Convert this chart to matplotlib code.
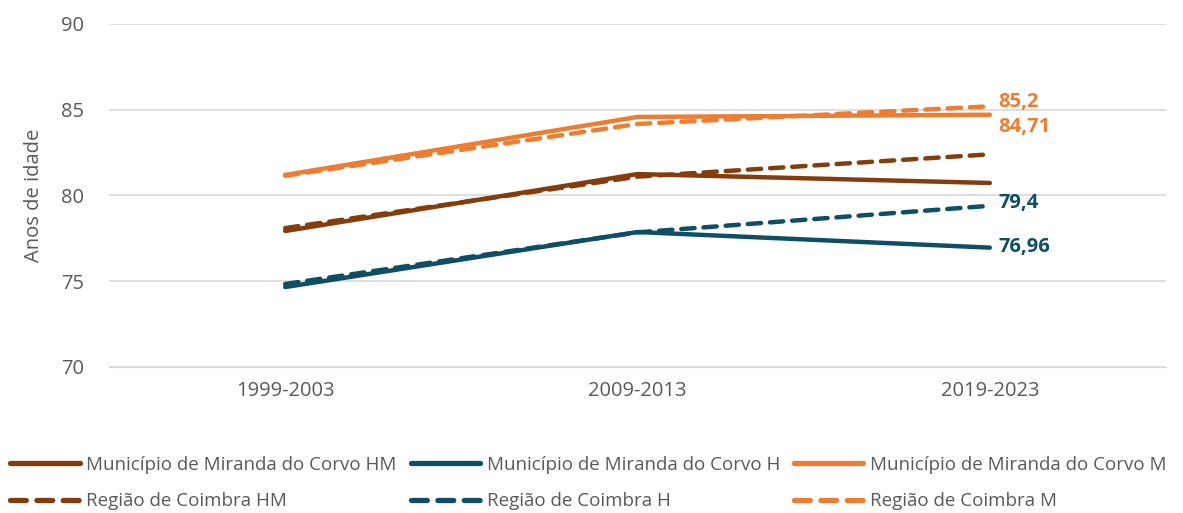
import matplotlib
matplotlib.use("Agg")
import matplotlib.pyplot as plt

periods = ["1999-2003", "2009-2013", "2019-2023"]
mun_hm = [77.93, 81.25, 80.73]
mun_h = [74.66, 77.87, 76.96]
mun_m = [81.2, 84.58, 84.71]
reg_hm = [78.1, 81.1, 82.4]
reg_h = [74.84, 77.85, 79.4]
reg_m = [81.15, 84.17, 85.2]
yticks = [70, 75, 80, 85, 90]

c_hm = "#843C0C"
c_h = "#0E4F66"
c_m = "#ED7D31"
txt = "#595959"

plt.rcParams['font.family'] = ['Open Sans', 'DejaVu Sans']

fig = plt.figure(figsize=(11.83, 5.13), dpi=100)
L, R, T, B = 109, 1166, 24, 367
ax = fig.add_axes([L/1183, 1-B/513, (R-L)/1183, (B-T)/513])

x = list(range(len(periods)))
lw = 3.2
series = [
    (mun_hm, c_hm, "-", "Município de Miranda do Corvo HM"),
    (reg_hm, c_hm, "--", "Região de Coimbra HM"),
    (mun_h, c_h, "-", "Município de Miranda do Corvo H"),
    (reg_h, c_h, "--", "Região de Coimbra H"),
    (mun_m, c_m, "-", "Município de Miranda do Corvo M"),
    (reg_m, c_m, "--", "Região de Coimbra M"),
]
handles = []
for vals, col, ls, lab in series:
    kw = dict(dashes=(3, 2)) if ls == "--" else {}
    line, = ax.plot(x, vals, color=col, lw=lw, ls=ls, solid_capstyle="round",
                    dash_capstyle="round", label=lab, zorder=3, **kw)
    handles.append(line)

lab_specs = [
    (reg_m, c_m, 3.0, "85,2"),
    (mun_m, c_m, -9.0, "84,71"),
    (reg_h, c_h, 2.0, "79,4"),
    (mun_h, c_h, 0.5, "76,96"),
]
for vals, col, dy, s in lab_specs:
    ax.annotate(s, (x[-1], vals[-1]), xytext=(6, dy), textcoords="offset points",
                color=col, fontsize=14.5, fontweight="bold", va="center", ha="left")

ax.set_xlim(-0.5, 2.5)
ax.set_ylim(70, 90)
ax.set_yticks(yticks)
ax.set_xticks(x)
ax.set_xticklabels(periods)
ax.tick_params(axis="y", length=0, labelsize=14.5, colors=txt, pad=18)
ax.tick_params(axis="x", length=0, labelsize=14.5, colors=txt, pad=10)
ax.grid(axis="y", color="#D9D9D9", lw=1.2, zorder=0)
for sp in ax.spines.values():
    sp.set_visible(False)
ax.spines["bottom"].set_visible(True)
ax.spines["bottom"].set_color("#D9D9D9")
ax.set_ylabel("Anos de idade", fontsize=14.5, color=txt, labelpad=12)

leg = fig.legend(handles=handles, loc="lower left", bbox_to_anchor=(-0.004, -0.024), ncol=3,
                 frameon=False, fontsize=13.5, labelcolor=txt, handlelength=3.7, handletextpad=0.35,
                 columnspacing=0.75, labelspacing=1.0, borderpad=0.3)
for h in leg.legend_handles:
    h.set_linewidth(3.8)

fig.savefig("out.png", dpi=100)
